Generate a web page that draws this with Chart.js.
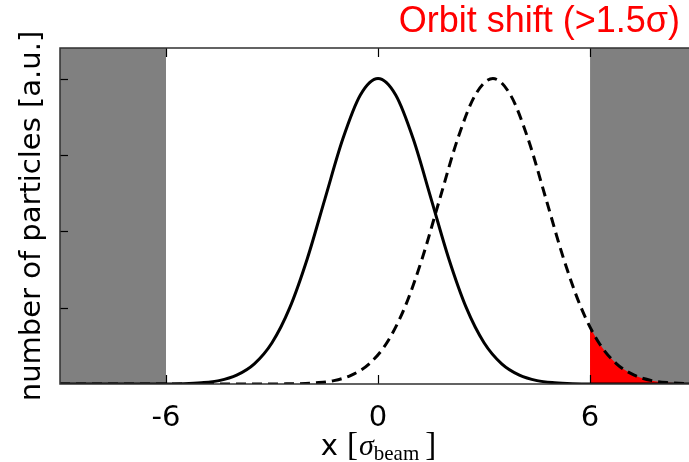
<!DOCTYPE html>
<html>
<head>
<meta charset="utf-8">
<script src="https://cdn.jsdelivr.net/npm/chart.js@4/dist/chart.umd.min.js"></script>
<style>
  html, body { margin: 0; padding: 0; background: #ffffff; overflow: hidden; }
  #wrap { width: 689px; height: 462px; }
</style>
</head>
<body>
<div id="wrap"><canvas id="c" width="689" height="462"></canvas></div>
<script>
// ---- data ----
const titleText = 'Orbit shift (>1.5σ)';
const yTitle = 'number of particles [a.u.]';
const xTickVals = [-6, 0, 6];
const xTickLabels = ['-6', '0', '6'];
const yTickVals = [0.25, 0.5, 0.75, 1.0];

// nominal beam (solid)
const solidX = [-9, -8, -7, -6, -5.5, -5, -4.5, -4, -3.5, -3, -2.5, -2, -1.5, -1, -0.5, 0, 0.5, 1, 1.5, 2, 2.5, 3, 3.5, 4, 4.5, 5, 5.5, 6, 7, 8, 9];
const solidY = [0, 0, 0, 0.0003, 0.001, 0.004, 0.011, 0.029, 0.066, 0.135, 0.249, 0.411, 0.607, 0.801, 0.946, 1.0, 0.946, 0.801, 0.607, 0.411, 0.249, 0.135, 0.066, 0.029, 0.011, 0.004, 0.001, 0.0003, 0, 0, 0];

// shifted beam (dashed)
const dashedX = [-9, -6, -4, -3, -2.75, -2.25, -1.75, -1.25, -0.75, -0.25, 0.25, 0.75, 1.25, 1.75, 2.25, 2.75, 3.25, 3.75, 4.25, 4.75, 5.25, 5.75, 6.25, 6.75, 7.25, 7.75, 8.25, 8.75, 9];
const dashedY = [0, 0, 0, 0, 0.0003, 0.001, 0.004, 0.011, 0.029, 0.066, 0.135, 0.249, 0.411, 0.607, 0.801, 0.946, 1.0, 0.946, 0.801, 0.607, 0.411, 0.249, 0.135, 0.066, 0.029, 0.011, 0.004, 0.001, 0.0007];

// lost tail of shifted beam beyond the collimator (red)
const tailX = [6, 6.25, 6.75, 7.25, 7.75, 8.25, 8.75, 9];
const tailY = [0.186, 0.135, 0.066, 0.029, 0.011, 0.004, 0.001, 0.0007];

// collimator jaws (grey)
const jawFrom = [-9, 6];
const jawTo = [-6, 9];

const xMin = -9, xMax = 8.8, yMin = 0, yMax = 1.1;

// ---- build datasets ----
const pts = (xs, ys) => xs.map((x, i) => ({x: x, y: ys[i]}));

const datasets = [
  {
    label: 'nominal',
    data: pts(solidX, solidY),
    borderColor: '#000000',
    borderWidth: 3,
    pointRadius: 0,
    cubicInterpolationMode: 'monotone',
    fill: false,
    order: 0
  },
  {
    label: 'shifted',
    data: pts(dashedX, dashedY),
    borderColor: '#000000',
    borderWidth: 3,
    borderDash: [10, 6],
    pointRadius: 0,
    cubicInterpolationMode: 'monotone',
    fill: false,
    order: 1
  },
  {
    label: 'lost',
    data: pts(tailX, tailY),
    borderColor: 'rgba(0,0,0,0)',
    borderWidth: 0,
    backgroundColor: '#ff0000',
    pointRadius: 0,
    cubicInterpolationMode: 'monotone',
    fill: 'origin',
    order: 2
  }
];
jawFrom.forEach((a, i) => {
  datasets.push({
    label: 'jaw' + i,
    data: [{x: a, y: yMax}, {x: jawTo[i], y: yMax}],
    borderColor: 'rgba(0,0,0,0)',
    borderWidth: 0,
    backgroundColor: '#808080',
    pointRadius: 0,
    fill: 'start',
    order: 3
  });
});

// ---- plugins ----
const framePlugin = {
  id: 'frame',
  afterLayout(chart) {
    if (chart.titleBlock) { chart.titleBlock.right = 680; }
  },
  afterDatasetsDraw(chart) {
    const {ctx, chartArea: a, scales: {x, y}} = chart;
    ctx.save();
    ctx.strokeStyle = '#000000';
    ctx.lineWidth = 1.2;
    // inner tick marks
    yTickVals.forEach(v => {
      const py = Math.round(y.getPixelForValue(v)) + 0.5;
      ctx.beginPath(); ctx.moveTo(a.left, py); ctx.lineTo(a.left + 8, py); ctx.stroke();
    });
    xTickVals.forEach(v => {
      const px = Math.round(x.getPixelForValue(v)) + 0.5;
      ctx.beginPath(); ctx.moveTo(px, a.bottom); ctx.lineTo(px, a.bottom - 9); ctx.stroke();
      ctx.beginPath(); ctx.moveTo(px, a.top); ctx.lineTo(px, a.top + 9); ctx.stroke();
    });
    // frame (left, top, bottom)
    ctx.strokeStyle = '#303030';
    ctx.lineWidth = 1.5;
    ctx.beginPath();
    ctx.moveTo(a.right + 2, a.top);
    ctx.lineTo(a.left, a.top);
    ctx.lineTo(a.left, a.bottom);
    ctx.lineTo(a.right + 2, a.bottom);
    ctx.stroke();
    ctx.restore();
  },
  afterDraw(chart) {
    // x-axis title: x [σ_beam]
    const {ctx, chartArea: a} = chart;
    const parts = [
      {t: 'x', f: '29px "DejaVu Sans"', dy: 0, gap: 9},
      {t: '[', f: '33px "Liberation Serif"', dy: 0, gap: 1},
      {t: 'σ', f: 'italic 30px "Liberation Serif"', dy: 0, gap: 0},
      {t: 'beam', f: '21px "Liberation Serif"', dy: 5, gap: 6},
      {t: ']', f: '33px "Liberation Serif"', dy: 0, gap: 0}
    ];
    ctx.save();
    let total = 0;
    parts.forEach(p => { ctx.font = p.f; p.w = ctx.measureText(p.t).width; total += p.w + p.gap; });
    let cx = (a.left + a.right) / 2 + 4 - total / 2;
    const base = 455;
    ctx.fillStyle = '#000000';
    ctx.textBaseline = 'alphabetic';
    ctx.textAlign = 'left';
    parts.forEach(p => {
      ctx.font = p.f;
      ctx.fillText(p.t, cx, base + p.dy);
      cx += p.w + p.gap;
    });
    ctx.restore();
  }
};

new Chart(document.getElementById('c'), {
  type: 'line',
  data: { datasets: datasets },
  plugins: [framePlugin],
  options: {
    responsive: false,
    animation: false,
    devicePixelRatio: 1,
    layout: { padding: 0 },
    plugins: {
      legend: { display: false },
      tooltip: { enabled: false },
      title: {
        display: true,
        text: titleText,
        align: 'end',
        color: '#ff0000',
        font: { family: '"Liberation Sans", Arial, sans-serif', size: 36, weight: 'normal', lineHeight: 1 },
        padding: { top: 4, bottom: 8 }
      }
    },
    scales: {
      x: {
        type: 'linear',
        min: xMin,
        max: xMax,
        grid: { display: false },
        border: { display: false },
        afterBuildTicks: s => { s.ticks = xTickVals.map(v => ({value: v})); },
        afterFit: s => { s.height = 78; },
        ticks: {
          padding: 9,
          color: '#000000',
          font: { family: '"DejaVu Sans"', size: 29 },
          maxRotation: 0,
          callback: (v) => xTickLabels[xTickVals.indexOf(v)]
        },
        title: { display: false }
      },
      y: {
        type: 'linear',
        min: yMin,
        max: yMax,
        grid: { display: false },
        border: { display: false },
        afterFit: s => { s.width = 60; },
        ticks: { display: false },
        title: {
          display: true,
          text: yTitle,
          color: '#000000',
          font: { family: '"DejaVu Sans"', size: 29 },
          padding: { top: 15, bottom: 0 }
        }
      }
    }
  }
});
</script>
</body>
</html>
